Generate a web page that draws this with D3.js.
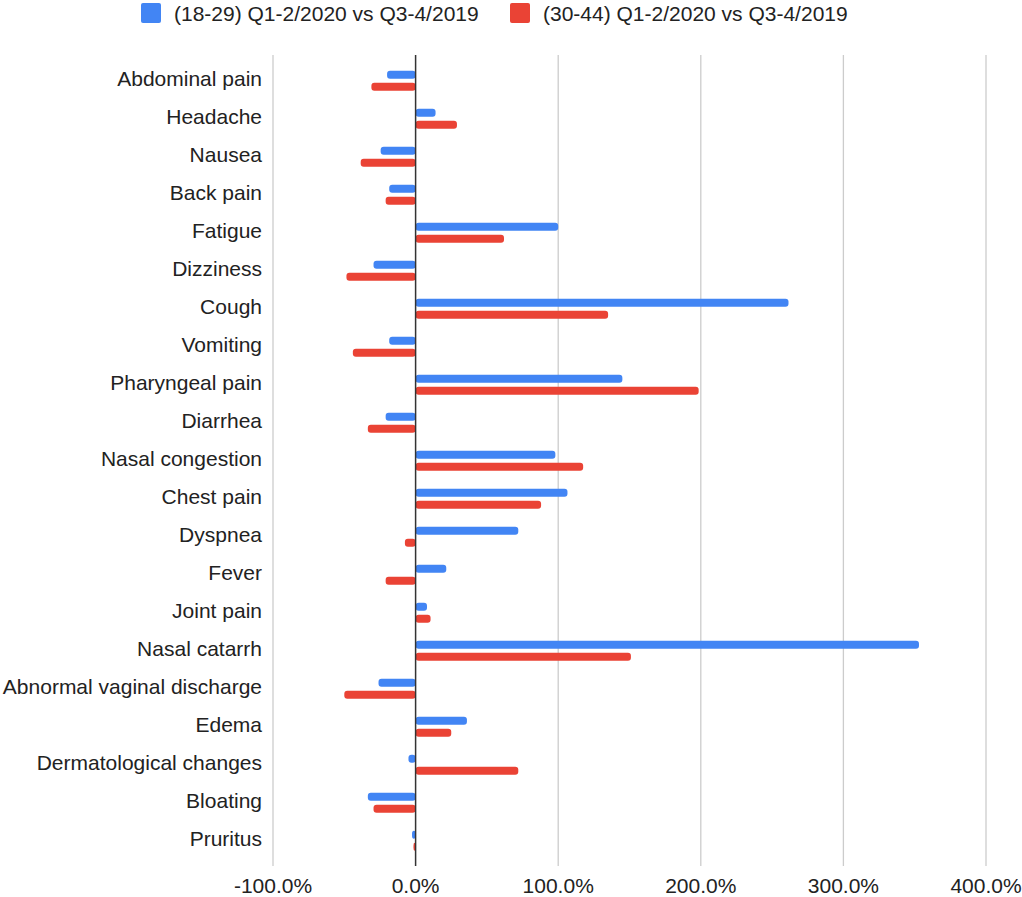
<!DOCTYPE html>
<html>
<head>
<meta charset="utf-8">
<script src="https://cdn.jsdelivr.net/npm/d3@7"></script>
<style>
  body { margin: 0; background: #fff; }
  text { font-family: "Liberation Sans", Arial, sans-serif; fill: #222; }
</style>
</head>
<body>
<div id="chart"></div>
<script>
const symptoms = ["Abdominal pain", "Headache", "Nausea", "Back pain", "Fatigue", "Dizziness",
  "Cough", "Vomiting", "Pharyngeal pain", "Diarrhea", "Nasal congestion", "Chest pain",
  "Dyspnea", "Fever", "Joint pain", "Nasal catarrh", "Abnormal vaginal discharge", "Edema",
  "Dermatological changes", "Bloating", "Pruritus"];

// percent change, Q1-2/2020 vs Q3-4/2019
const age18to29 = [-20, 14, -24.5, -18.5, 100, -29.5, 261.5, -18.5, 145, -21, 98, 106.5,
  72, 21.5, 8, 353, -26, 36, -5, -33.5, -2.5];
const age30to44 = [-31, 29, -38.5, -21, 62, -48.5, 135, -44, 198.5, -33.5, 117.5, 88,
  -7.5, -21, 10.5, 151, -50, 25, 72, -29.5, -1.5];

const seriesNames = ["(18-29) Q1-2/2020 vs Q3-4/2019", "(30-44) Q1-2/2020 vs Q3-4/2019"];
const colors = ["#4285F4", "#EA4335"];
const xTicks = [-100, 0, 100, 200, 300, 400];

const WIDTH = 1022, HEIGHT = 897;

const svg = d3.select("#chart").append("svg")
  .attr("width", WIDTH)
  .attr("height", HEIGHT);

const x = d3.scaleLinear().domain([-100, 400]).range([273, 986]);
const y = d3.scaleBand().domain(symptoms).range([61.7, 859.7]);

const gridTop = 55, gridBottom = 866;

// gridlines
svg.selectAll(".grid")
  .data(xTicks.filter(d => d !== 0))
  .enter().append("line")
  .attr("class", "grid")
  .attr("x1", d => x(d)).attr("x2", d => x(d))
  .attr("y1", gridTop).attr("y2", gridBottom)
  .attr("stroke", "#cccccc")
  .attr("stroke-width", 1.3);

// tick labels (plain hyphen for negatives, like the original)
svg.selectAll(".tick-label")
  .data(xTicks)
  .enter().append("text")
  .attr("class", "tick-label")
  .attr("x", d => x(d))
  .attr("y", 893)
  .attr("text-anchor", "middle")
  .style("font-size", "21px")
  .text(d => d.toFixed(1) + "%");

// bars
const series = [age18to29, age30to44];
series.forEach(function(vals, i) {
  svg.append("g").selectAll("rect")
    .data(vals)
    .enter().append("rect")
    .attr("x", d => Math.min(x(0), x(d)))
    .attr("width", d => Math.abs(x(d) - x(0)))
    .attr("y", (d, j) => y(symptoms[j]) + y.bandwidth() / 2 - 10 + i * 12)
    .attr("height", 8)
    .attr("rx", 3)
    .attr("fill", colors[i]);
});

// zero line
svg.append("line")
  .attr("x1", x(0)).attr("x2", x(0))
  .attr("y1", gridTop).attr("y2", gridBottom)
  .attr("stroke", "#333333")
  .attr("stroke-width", 1.5);

// category labels
svg.selectAll(".cat")
  .data(symptoms)
  .enter().append("text")
  .attr("class", "cat")
  .attr("x", 262)
  .attr("y", d => y(d) + y.bandwidth() / 2 + 5.5)
  .attr("text-anchor", "end")
  .style("font-size", "21px")
  .text(d => d);

// legend
const legendX = [141, 510];
const legend = svg.selectAll(".legend")
  .data(seriesNames)
  .enter().append("g")
  .attr("class", "legend")
  .attr("transform", (d, i) => "translate(" + legendX[i] + ",3)");

legend.append("rect")
  .attr("width", 20).attr("height", 20)
  .attr("rx", 2)
  .attr("fill", (d, i) => colors[i]);

legend.append("text")
  .attr("x", 33)
  .attr("y", 17.5)
  .style("font-size", "21px")
  .text(d => d);
</script>
</body>
</html>
